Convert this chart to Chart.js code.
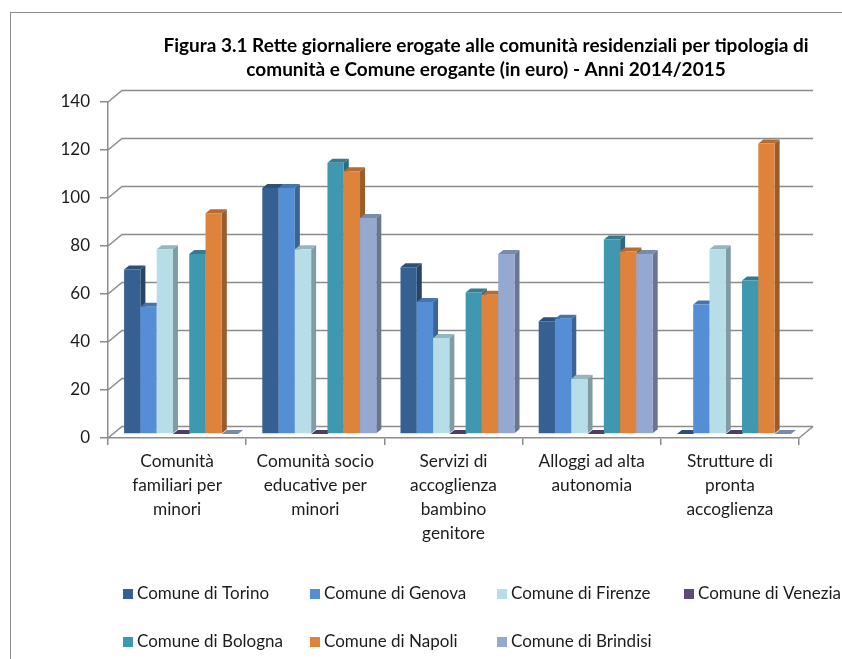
<!DOCTYPE html>
<html>
<head>
<meta charset="utf-8">
<title>Figura 3.1</title>
<script src="https://cdn.jsdelivr.net/npm/chart.js@4"></script>
<style>
    html, body { margin: 0; padding: 0; background: #fff; }
    #wrap { position: relative; width: 842px; height: 659px; overflow: hidden; }
    #frame { position: absolute; left: 10px; top: 12px; width: 900px; height: 700px; border: 1.5px solid #8c8c8c; box-sizing: border-box; }
    canvas { position: absolute; left: 0; top: 0; }
</style>
</head>
<body>
<div id="wrap">
    <div id="frame"></div>
    <canvas id="chart" width="842" height="659"></canvas>
</div>
<script>
const categories = [
    ['Comunità', 'familiari per', 'minori'],
    ['Comunità socio', 'educative per', 'minori'],
    ['Servizi di', 'accoglienza', 'bambino', 'genitore'],
    ['Alloggi ad alta', 'autonomia'],
    ['Strutture di', 'pronta', 'accoglienza']
];
const titleLines = [
    'Figura 3.1 Rette giornaliere erogate alle comunità residenziali per tipologia di',
    'comunità e Comune erogante (in euro) - Anni 2014/2015'
];
const torino = [68.5, 102.5, 69.5, 47, 0];
const genova = [53, 102.5, 55, 48, 54];
const firenze = [77, 77, 40, 23, 77];
const venezia = [0, 0, 0, 0, 0];
const bologna = [75, 113, 59, 81, 64];
const napoli = [92, 109.5, 58, 76, 121];
const brindisi = [0, 90, 75, 75, 0];

const gridColor = '#8c8c8c';
const textColor = '#1c1c1c';

// shade a hex colour for the side and top faces
function shade(hex, k) {
    const n = parseInt(hex.slice(1), 16);
    const c = [n >> 16, (n >> 8) & 255, n & 255].map(v => Math.round(v * k));
    return `rgb(${c[0]}, ${c[1]}, ${c[2]})`;
}

function poly(ctx, pts, color) {
    ctx.fillStyle = color;
    ctx.beginPath();
    pts.forEach((p, i) => i ? ctx.lineTo(p[0], p[1]) : ctx.moveTo(p[0], p[1]));
    ctx.closePath();
    ctx.fill();
}

const DEPTH_X = 14, DEPTH_Y = 11.5;   // back wall offset
const BAR_DX = 4, BAR_DY = -4;        // bars stand in the middle of the floor
const FACE_X = 5, FACE_Y = 4;         // depth of one bar

const fake3d = {
    id: 'fake3d',
    afterLayout(chart) {
        // title is centered to the right of the canvas middle
        chart.titleBlock.left = 130;
        chart.titleBlock.right = 842;
    },
    beforeDatasetsDraw(chart) {
        const { ctx, chartArea: area, scales: { y } } = chart;
        ctx.save();
        ctx.strokeStyle = gridColor;
        ctx.lineWidth = 1.5;

        // back wall grid lines
        y.ticks.forEach(t => {
            const py = y.getPixelForValue(t.value);
            ctx.beginPath();
            ctx.moveTo(area.left, py);
            ctx.lineTo(area.left + DEPTH_X, py - DEPTH_Y);
            ctx.lineTo(area.right + DEPTH_X, py - DEPTH_Y);
            ctx.stroke();
        });
        // floor right edge
        ctx.beginPath();
        ctx.moveTo(area.right, area.bottom);
        ctx.lineTo(area.right + DEPTH_X, area.bottom - DEPTH_Y);
        ctx.stroke();

        // painter order, left bar first, so the next front covers the side
        chart.data.datasets.forEach((ds, i) => {
            chart.getDatasetMeta(i).data.forEach(bar => {
                const w = bar.width;
                const l = bar.x - w / 2 + BAR_DX;
                const r = l + w;
                const t = bar.y + BAR_DY;
                const b = bar.base + BAR_DY;
                poly(ctx, [[r, t], [r + FACE_X, t - FACE_Y], [r + FACE_X, b - FACE_Y], [r, b]], shade(ds.backgroundColor, 0.7));
                poly(ctx, [[l, t], [l + FACE_X, t - FACE_Y], [r + FACE_X, t - FACE_Y], [r, t]], shade(ds.backgroundColor, 0.82));
                if (b > t) poly(ctx, [[l, t], [r, t], [r, b], [l, b]], ds.backgroundColor);
            });
        });
        ctx.restore();
        return false;
    },
    afterDraw(chart) {
        // legend in fixed columns like the original
        const { ctx } = chart;
        ctx.save();
        ctx.font = '17px Lato';
        ctx.textBaseline = 'middle';
        chart.data.datasets.forEach((ds, i) => {
            const x = 123 + (i % 4) * 187;
            const y = 594 + Math.floor(i / 4) * 48;
            ctx.fillStyle = ds.backgroundColor;
            ctx.fillRect(x, y - 5, 10, 10);
            ctx.fillStyle = textColor;
            ctx.fillText(ds.label, x + 14, y);
        });
        ctx.restore();
    }
};

Chart.defaults.font.family = 'Lato';
Chart.defaults.color = textColor;

new Chart(document.getElementById('chart'), {
    type: 'bar',
    data: {
        labels: categories,
        datasets: [
            { label: 'Comune di Torino', data: torino, backgroundColor: '#376092' },
            { label: 'Comune di Genova', data: genova, backgroundColor: '#558ed5' },
            { label: 'Comune di Firenze', data: firenze, backgroundColor: '#b7dee8' },
            { label: 'Comune di Venezia', data: venezia, backgroundColor: '#604a7b' },
            { label: 'Comune di Bologna', data: bologna, backgroundColor: '#3f97b0' },
            { label: 'Comune di Napoli', data: napoli, backgroundColor: '#dd833c' },
            { label: 'Comune di Brindisi', data: brindisi, backgroundColor: '#95a8d0' }
        ]
    },
    options: {
        responsive: false,
        animation: false,
        layout: { padding: { top: 0, right: 43, bottom: 0, left: 0 } },
        datasets: { bar: { barPercentage: 1, categoryPercentage: 0.825 } },
        plugins: {
            legend: { display: false },
            tooltip: { enabled: false },
            title: {
                display: true,
                text: titleLines,
                color: '#000',
                font: { size: 19, weight: 'bold', lineHeight: 1.263 },
                padding: { top: 33.5, bottom: 20.5 }
            }
        },
        scales: {
            x: {
                afterFit(scale) { scale.height = 221; },
                grid: { drawOnChartArea: false, color: gridColor, lineWidth: 1.5, tickLength: 7 },
                border: { color: gridColor, width: 1.5 },
                ticks: { font: { size: 17.3, lineHeight: 1.37 }, maxRotation: 0, padding: 5 }
            },
            y: {
                min: 0,
                max: 140,
                afterFit(scale) { scale.width = 108; },
                grid: { drawOnChartArea: false, color: gridColor, lineWidth: 1.5, tickLength: 8 },
                border: { color: gridColor, width: 1.5 },
                ticks: { stepSize: 20, font: { size: 17 }, padding: 10 }
            }
        }
    },
    plugins: [fake3d]
});
</script>
</body>
</html>
